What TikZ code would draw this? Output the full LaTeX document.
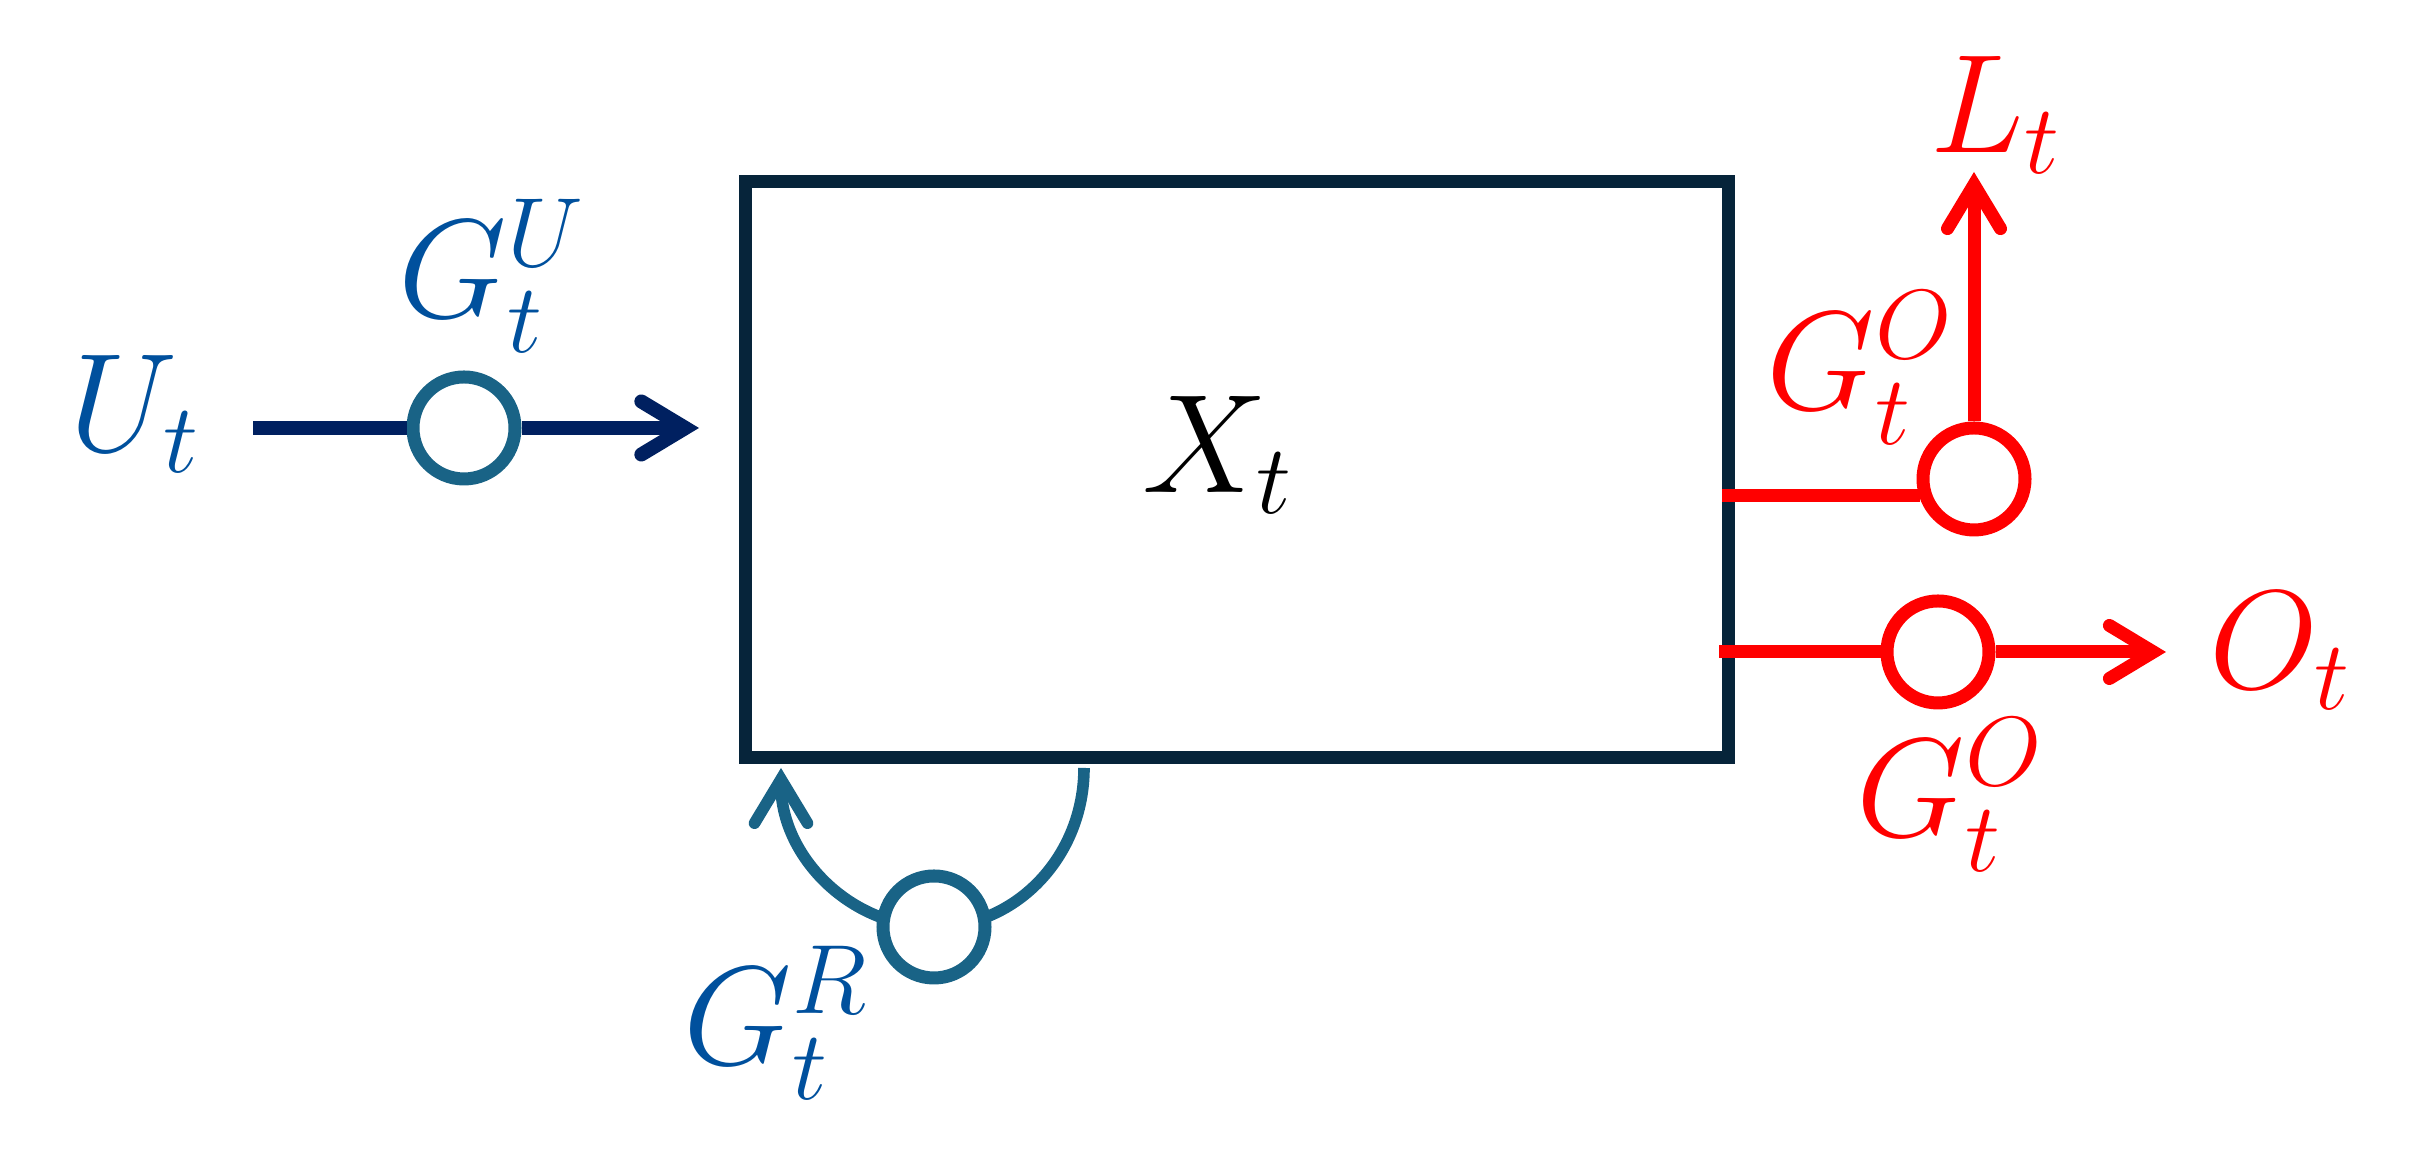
\RequirePackage{fix-cm}
\documentclass[tikz,border=0pt]{standalone}
\usepackage{amsmath}
\usepackage{xcolor}
\usepackage{tikz}
\usetikzlibrary{positioning,arrows.meta,calc,backgrounds}
\definecolor{boxnavy}{HTML}{06243A}
\definecolor{innavy}{HTML}{002060}
\definecolor{lblblue}{HTML}{00509D}
\definecolor{gateteal}{HTML}{196386}
\definecolor{outred}{HTML}{FF0000}

\begin{document}
\begin{tikzpicture}[
  font=\fontsize{40}{48}\selectfont,
  sysbox/.style={draw=boxnavy, line width=3.7pt, minimum width=9.83cm, minimum height=5.76cm, inner sep=0pt},
  gate/.style={circle, draw=#1, line width=3.7pt, fill=white, minimum size=1.02cm, inner sep=0pt},
  lbl/.style={inner sep=0pt, text=#1},
  tipped/.style={-{Straight Barb[length=4.4mm, width=5.3mm, line cap=round]}},
  inline/.style={draw=innavy, line width=4pt},
  fbline/.style={draw=gateteal, line width=3.3pt},
  redline/.style={draw=outred, line width=3.7pt},
  ]
  \useasboundingbox (0,0) rectangle (24.15,11.5);

  % System block
  \node[sysbox] (sys) at (12.365,6.80) {};
  \node[lbl=black] (xt) at (12.18,6.95) {$X_t$};

  % Input side
  \node[lbl=lblblue] (ut) at (1.35,7.36) {$U_t$};
  \node[gate=gateteal] (gu) at (4.64,7.22) {};
  \node[lbl=lblblue] (gut) at (4.92,8.74) {$G_t^U$};
  \coordinate (uin) at (2.53,7.22);
  \coordinate (uend) at (6.99,7.22);

  % Feedback gate
  \node[gate=gateteal] (gr) at (9.34,2.23) {};
  \node[lbl=lblblue] (grt) at (7.76,1.27) {$G_t^R$};

  % Output side
  \node[gate=outred] (go1) at (19.74,6.71) {};
  \node[lbl=outred] (go1t) at (18.60,7.82) {$G_t^O$};
  \node[lbl=outred] (lt) at (19.96,10.35) {$L_t$};
  \node[gate=outred] (go2) at (19.38,4.98) {};
  \node[lbl=outred] (go2t) at (19.50,3.55) {$G_t^O$};
  \node[lbl=outred] (ot) at (22.80,4.99) {$O_t$};
  \coordinate (o1in) at (17.22,6.54);
  \coordinate (ltip) at ($(go1.center)+(0,3.07)$);
  \coordinate (o2in) at (17.19,4.98);
  \coordinate (otip) at (21.66,4.98);

  % Arrows
  \draw[inline] (uin) -- (gu);
  \draw[inline, tipped] (gu) -- (uend);
  \draw[redline] (o1in) -- (o1in -| go1.200);
  \draw[redline, tipped] (go1) -- (ltip);
  \draw[redline] (o2in) -- (go2);
  \draw[redline, tipped] (go2) -- (otip);

  % Loop under the block
  \begin{scope}[on background layer]
    \draw[fbline] (gr.center) arc[start angle=-90, end angle=0, x radius=1.50cm, y radius=1.59cm];
    \draw[fbline, tipped] (gr.center) arc[start angle=-90, end angle=-180, x radius=1.53cm, y radius=1.59cm];
  \end{scope}
\end{tikzpicture}
\end{document}
